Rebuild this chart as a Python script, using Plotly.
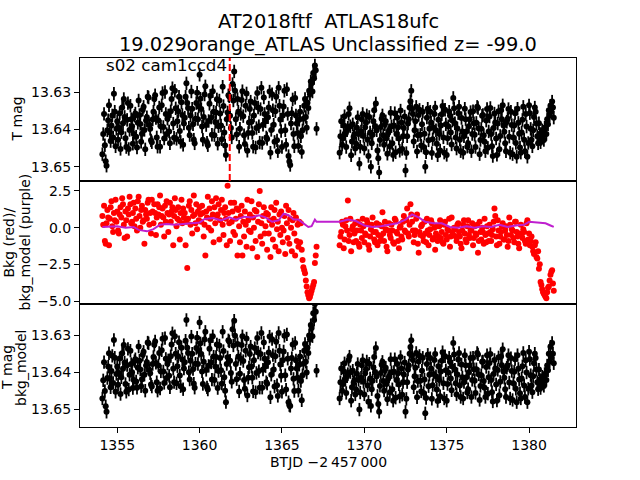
import plotly.graph_objects as go
from plotly.subplots import make_subplots

# ---------------- data ----------------
title_line1 = "AT2018ftf  ATLAS18ufc"
title_line2 = "19.029orange_ATLAS Unclassified z= -99.0"
sector_label = "s02 cam1ccd4"
discovery_btjd = 1361.83

time_seg1 = [
    1354.10, 1354.15, 1354.20, 1354.25, 1354.30, 1354.35, 1354.40, 1354.45, 1354.50, 1354.55, 1354.60, 1354.65, 1354.70, 1354.75, 1354.80, 1354.85, 1354.90, 1354.95, 1355.00, 1355.05,
    1355.10, 1355.15, 1355.20, 1355.25, 1355.30, 1355.35, 1355.40, 1355.45, 1355.50, 1355.55, 1355.60, 1355.65, 1355.70, 1355.75, 1355.80, 1355.85, 1355.90, 1355.95, 1356.00, 1356.05,
    1356.10, 1356.15, 1356.20, 1356.25, 1356.30, 1356.35, 1356.40, 1356.45, 1356.50, 1356.55, 1356.60, 1356.65, 1356.70, 1356.75, 1356.80, 1356.85, 1356.90, 1356.95, 1357.00, 1357.05,
    1357.10, 1357.15, 1357.20, 1357.25, 1357.30, 1357.35, 1357.40, 1357.45, 1357.50, 1357.55, 1357.60, 1357.65, 1357.70, 1357.75, 1357.80, 1357.85, 1357.90, 1357.95, 1358.00, 1358.05,
    1358.10, 1358.15, 1358.20, 1358.25, 1358.30, 1358.35, 1358.40, 1358.45, 1358.50, 1358.55, 1358.60, 1358.65, 1358.70, 1358.75, 1358.80, 1358.85, 1358.90, 1358.95, 1359.00, 1359.05,
    1359.10, 1359.15, 1359.20, 1359.25, 1359.30, 1359.35, 1359.40, 1359.45, 1359.50, 1359.55, 1359.60, 1359.65, 1359.70, 1359.75, 1359.80, 1359.85, 1359.90, 1359.95, 1360.00, 1360.05,
    1360.10, 1360.15, 1360.20, 1360.25, 1360.30, 1360.35, 1360.40, 1360.45, 1360.50, 1360.55, 1360.60, 1360.65, 1360.70, 1360.75, 1360.80, 1360.85, 1360.90, 1360.95, 1361.00, 1361.05,
    1361.10, 1361.15, 1361.20, 1361.25, 1361.30, 1361.35, 1361.40, 1361.45, 1361.50, 1361.55, 1361.60, 1361.65, 1361.70, 1361.75, 1361.80, 1361.85, 1361.90, 1361.95, 1362.00, 1362.05,
    1362.10, 1362.15, 1362.20, 1362.25, 1362.30, 1362.35, 1362.40, 1362.45, 1362.50, 1362.55, 1362.60, 1362.65, 1362.70, 1362.75, 1362.80, 1362.85, 1362.90, 1362.95, 1363.00, 1363.05,
    1363.10, 1363.15, 1363.20, 1363.25, 1363.30, 1363.35, 1363.40, 1363.45, 1363.50, 1363.55, 1363.60, 1363.65, 1363.70, 1363.75, 1363.80, 1363.85, 1363.90, 1363.95, 1364.00, 1364.05,
    1364.10, 1364.15, 1364.20, 1364.25, 1364.30, 1364.35, 1364.40, 1364.45, 1364.50, 1364.55, 1364.60, 1364.65, 1364.70, 1364.75, 1364.80, 1364.85, 1364.90, 1364.95, 1365.00, 1365.05,
    1365.10, 1365.15, 1365.20, 1365.25, 1365.30, 1365.35, 1365.40, 1365.45, 1365.50, 1365.55, 1365.60, 1365.65, 1365.70, 1365.75, 1365.80, 1365.85, 1365.90, 1365.95, 1366.00, 1366.05,
    1366.10, 1366.15, 1366.20, 1366.25, 1366.30, 1366.35, 1366.40, 1366.45, 1366.50, 1366.55, 1366.60, 1366.65, 1366.70, 1366.75, 1366.80, 1366.85, 1366.90, 1366.95, 1367.00, 1367.05,
    1367.10]
time_seg2 = [
    1368.50, 1368.55, 1368.60, 1368.65, 1368.70, 1368.75, 1368.80, 1368.85, 1368.90, 1368.95, 1369.00, 1369.05, 1369.10, 1369.15, 1369.20, 1369.25, 1369.30, 1369.35, 1369.40, 1369.45,
    1369.50, 1369.55, 1369.60, 1369.65, 1369.70, 1369.75, 1369.80, 1369.85, 1369.90, 1369.95, 1370.00, 1370.05, 1370.10, 1370.15, 1370.20, 1370.25, 1370.30, 1370.35, 1370.40, 1370.45,
    1370.50, 1370.55, 1370.60, 1370.65, 1370.70, 1370.75, 1370.80, 1370.85, 1370.90, 1370.95, 1371.00, 1371.05, 1371.10, 1371.15, 1371.20, 1371.25, 1371.30, 1371.35, 1371.40, 1371.45,
    1371.50, 1371.55, 1371.60, 1371.65, 1371.70, 1371.75, 1371.80, 1371.85, 1371.90, 1371.95, 1372.00, 1372.05, 1372.10, 1372.15, 1372.20, 1372.25, 1372.30, 1372.35, 1372.40, 1372.45,
    1372.50, 1372.55, 1372.60, 1372.65, 1372.70, 1372.75, 1372.80, 1372.85, 1372.90, 1372.95, 1373.00, 1373.05, 1373.10, 1373.15, 1373.20, 1373.25, 1373.30, 1373.35, 1373.40, 1373.45,
    1373.50, 1373.55, 1373.60, 1373.65, 1373.70, 1373.75, 1373.80, 1373.85, 1373.90, 1373.95, 1374.00, 1374.05, 1374.10, 1374.15, 1374.20, 1374.25, 1374.30, 1374.35, 1374.40, 1374.45,
    1374.50, 1374.55, 1374.60, 1374.65, 1374.70, 1374.75, 1374.80, 1374.85, 1374.90, 1374.95, 1375.00, 1375.05, 1375.10, 1375.15, 1375.20, 1375.25, 1375.30, 1375.35, 1375.40, 1375.45,
    1375.50, 1375.55, 1375.60, 1375.65, 1375.70, 1375.75, 1375.80, 1375.85, 1375.90, 1375.95, 1376.00, 1376.05, 1376.10, 1376.15, 1376.20, 1376.25, 1376.30, 1376.35, 1376.40, 1376.45,
    1376.50, 1376.55, 1376.60, 1376.65, 1376.70, 1376.75, 1376.80, 1376.85, 1376.90, 1376.95, 1377.00, 1377.05, 1377.10, 1377.15, 1377.20, 1377.25, 1377.30, 1377.35, 1377.40, 1377.45,
    1377.50, 1377.55, 1377.60, 1377.65, 1377.70, 1377.75, 1377.80, 1377.85, 1377.90, 1377.95, 1378.00, 1378.05, 1378.10, 1378.15, 1378.20, 1378.25, 1378.30, 1378.35, 1378.40, 1378.45,
    1378.50, 1378.55, 1378.60, 1378.65, 1378.70, 1378.75, 1378.80, 1378.85, 1378.90, 1378.95, 1379.00, 1379.05, 1379.10, 1379.15, 1379.20, 1379.25, 1379.30, 1379.35, 1379.40, 1379.45,
    1379.50, 1379.55, 1379.60, 1379.65, 1379.70, 1379.75, 1379.80, 1379.85, 1379.90, 1379.95, 1380.00, 1380.05, 1380.10, 1380.15, 1380.20, 1380.25, 1380.30, 1380.35, 1380.40, 1380.45,
    1380.50, 1380.55, 1380.60, 1380.65, 1380.70, 1380.75, 1380.80, 1380.85, 1380.90, 1380.95, 1381.00, 1381.05, 1381.10, 1381.15, 1381.20, 1381.25, 1381.30, 1381.35, 1381.40, 1381.45,
    1381.50]

tmag_seg1 = [
    13.6466, 13.6412, 13.6358, 13.6442, 13.6485, 13.6497, 13.6402, 13.6375, 13.6335, 13.6408, 13.6431, 13.6389, 13.6362, 13.6421, 13.6304, 13.6352, 13.6445, 13.6398, 13.6378, 13.6427,
    13.6395, 13.6356, 13.6452, 13.6407, 13.6341, 13.6383, 13.6318, 13.6366, 13.6423, 13.6447, 13.6374, 13.6329, 13.6452, 13.6401, 13.6336, 13.6372, 13.6391, 13.6438, 13.6412, 13.6363,
    13.6357, 13.6419, 13.6448, 13.6382, 13.6322, 13.6361, 13.6385, 13.6433, 13.6411, 13.6347, 13.6339, 13.6401, 13.6453, 13.6376, 13.6367, 13.6312, 13.6314, 13.6388, 13.6398, 13.6429,
    13.6434, 13.6373, 13.6352, 13.6318, 13.6308, 13.6369, 13.6421, 13.6446, 13.6376, 13.6341, 13.6446, 13.6392, 13.6335, 13.6302, 13.6393, 13.6424, 13.6299, 13.6358, 13.6412, 13.6371,
    13.6362, 13.6405, 13.6437, 13.6351, 13.6318, 13.6289, 13.6384, 13.6422, 13.6296, 13.6343, 13.6425, 13.6378, 13.6351, 13.6312, 13.6404, 13.6433, 13.6327, 13.6361, 13.6441, 13.6384,
    13.6368, 13.6312, 13.6276, 13.6329, 13.6342, 13.6395, 13.6415, 13.6362, 13.6298, 13.6344, 13.6386, 13.6427, 13.6437, 13.6371, 13.6329, 13.6301, 13.6372, 13.6338, 13.6253, 13.6317,
    13.6345, 13.6392, 13.6427, 13.6366, 13.6306, 13.6284, 13.6388, 13.6435, 13.6442, 13.6377, 13.6331, 13.6309, 13.6368, 13.6414, 13.6297, 13.6352, 13.6415, 13.6380, 13.6354, 13.6319,
    13.6438, 13.6391, 13.6322, 13.6357, 13.6389, 13.6426, 13.6285, 13.6337, 13.6408, 13.6443, 13.6468, 13.6372, 13.6354, 13.6308, 13.6311, 13.6363, 13.6396, 13.6421, 13.6278, 13.6322,
    13.6244, 13.6296, 13.6372, 13.6413, 13.6318, 13.6352, 13.6446, 13.6398, 13.6358, 13.6321, 13.6297, 13.6364, 13.6415, 13.6439, 13.6336, 13.6303, 13.6457, 13.6409, 13.6381, 13.6345,
    13.6325, 13.6379, 13.6409, 13.6446, 13.6362, 13.6329, 13.6448, 13.6396, 13.6302, 13.6341, 13.6391, 13.6435, 13.6345, 13.6288, 13.6436, 13.6387, 13.6314, 13.6358, 13.6378, 13.6421,
    13.6425, 13.6367, 13.6341, 13.6298, 13.6462, 13.6401, 13.6305, 13.6348, 13.6387, 13.6433, 13.6351, 13.6312, 13.6429, 13.6458, 13.6288, 13.6336, 13.6373, 13.6404, 13.6447, 13.6362,
    13.6338, 13.6296, 13.6402, 13.6441, 13.6292, 13.6358, 13.6471, 13.6486, 13.6495, 13.6384, 13.6356, 13.6319, 13.6412, 13.6445, 13.6315, 13.6362, 13.6384, 13.6409, 13.6444, 13.6374,
    13.6352, 13.6418, 13.6460, 13.6402, 13.6371, 13.6336, 13.6318, 13.6366, 13.6395, 13.6328, 13.6342, 13.6296, 13.6305, 13.6271, 13.6276, 13.6298, 13.6248, 13.6262, 13.6228, 13.6241,
    13.6398]
tmag_seg2 = [
    13.6462, 13.6418, 13.6378, 13.6441, 13.6423, 13.6389, 13.6364, 13.6412, 13.6447, 13.6402, 13.6395, 13.6358, 13.6343, 13.6391, 13.6469, 13.6432, 13.6386, 13.6419, 13.6412, 13.6451,
    13.6438, 13.6395, 13.6367, 13.6412, 13.6492, 13.6446, 13.6405, 13.6372, 13.6358, 13.6417, 13.6451, 13.6394, 13.6382, 13.6362, 13.6427, 13.6471, 13.6366, 13.6408, 13.6500, 13.6437,
    13.6414, 13.6378, 13.6348, 13.6391, 13.6330, 13.6402, 13.6456, 13.6477, 13.6515, 13.6428, 13.6393, 13.6371, 13.6362, 13.6415, 13.6441, 13.6386, 13.6378, 13.6423, 13.6465, 13.6409,
    13.6402, 13.6445, 13.6355, 13.6391, 13.6437, 13.6468, 13.6389, 13.6356, 13.6461, 13.6412, 13.6368, 13.6394, 13.6424, 13.6457, 13.6349, 13.6381, 13.6452, 13.6418, 13.6396, 13.6365,
    13.6510, 13.6463, 13.6418, 13.6384, 13.6372, 13.6341, 13.6324, 13.6296, 13.6345, 13.6358, 13.6432, 13.6402, 13.6378, 13.6339, 13.6459, 13.6415, 13.6361, 13.6347, 13.6414, 13.6443,
    13.6386, 13.6352, 13.6447, 13.6411, 13.6500, 13.6461, 13.6368, 13.6344, 13.6429, 13.6398, 13.6352, 13.6381, 13.6463, 13.6426, 13.6395, 13.6358, 13.6341, 13.6402, 13.6438, 13.6469,
    13.6374, 13.6412, 13.6456, 13.6389, 13.6359, 13.6337, 13.6421, 13.6462, 13.6347, 13.6386, 13.6468, 13.6423, 13.6391, 13.6352, 13.6362, 13.6408, 13.6440, 13.6376, 13.6315, 13.6343,
    13.6383, 13.6421, 13.6451, 13.6397, 13.6356, 13.6339, 13.6427, 13.6458, 13.6369, 13.6405, 13.6462, 13.6418, 13.6344, 13.6372, 13.6405, 13.6446, 13.6437, 13.6391, 13.6372, 13.6353,
    13.6458, 13.6412, 13.6351, 13.6383, 13.6414, 13.6447, 13.6382, 13.6339, 13.6342, 13.6397, 13.6466, 13.6428, 13.6398, 13.6363, 13.6361, 13.6415, 13.6433, 13.6458, 13.6376, 13.6345,
    13.6449, 13.6405, 13.6365, 13.6342, 13.6412, 13.6445, 13.6471, 13.6396, 13.6357, 13.6381, 13.6424, 13.6468, 13.6384, 13.6351, 13.6453, 13.6417, 13.6348, 13.6372, 13.6335, 13.6389,
    13.6406, 13.6437, 13.6458, 13.6379, 13.6371, 13.6345, 13.6419, 13.6462, 13.6352, 13.6388, 13.6466, 13.6421, 13.6389, 13.6356, 13.6436, 13.6473, 13.6344, 13.6382, 13.6411, 13.6448,
    13.6462, 13.6408, 13.6374, 13.6339, 13.6427, 13.6458, 13.6358, 13.6392, 13.6473, 13.6436, 13.6335, 13.6356, 13.6398, 13.6427, 13.6445, 13.6402, 13.6366, 13.6341, 13.6352, 13.6384,
    13.6418, 13.6437, 13.6383, 13.6411, 13.6434, 13.6425, 13.6402, 13.6418, 13.6428, 13.6395, 13.6395, 13.6412, 13.6372, 13.6386, 13.6348, 13.6362, 13.6336, 13.6352, 13.6325, 13.6341,
    13.6368]

bkg_seg1 = [
    0.8, 0.2, 1.5, -0.9, -1.1, 0.3, 1.2, 0.7, -1.2, 0.6, 1.4, 1.8, 0.1, -0.3, 1.0, 0.5, 1.9, 0.4, 1.1, -0.2,
    -0.4, 0.9, 1.4, 0.7, 2.0, 1.6, 0.2, -0.7, 1.1, 0.5, -0.6, 1.3, 0.9, 2.1, 1.6, 0.3, 0.4, 1.0, 1.7, 0.1,
    1.3, 0.6, -0.2, 1.8, 2.1, 0.8, 0.0, 1.2, 1.5, 0.4, 0.5, -1.1, 1.2, 0.9, 0.6, 1.7, 1.9, 0.2, 1.0, -0.4,
    1.9, 1.1, 0.3, 1.6, 1.0, -0.5, 0.7, 1.6, 0.9, 1.4, 2.2, 0.2, 0.8, 1.3, 0.7, -0.6, 1.5, 0.4, 1.8, 1.0,
    -0.3, 0.9, 1.7, 0.4, 1.1, 1.4, -1.2, 0.8, 2.0, 1.2, 0.1, 0.6, 1.4, 0.5, -0.8, 1.0, 1.9, 0.3, 1.3, 0.7,
    1.0, -1.2, 0.4, -2.75, 0.6, 1.5, 1.8, 0.2, 1.2, -0.4, 0.8, 2.2, 0.9, 0.3, 1.6, -0.1, 1.1, 0.5, 1.4, 0.9,
    0.4, 1.5, 1.0, -0.6, 0.2, -1.9, 1.1, 0.7, 2.1, 0.0, 1.3, 0.6, -0.2, 1.8, 0.9, -1.0, 1.4, 0.3, 2.0, 0.8,
    0.9, 1.6, -0.8, 0.5, 1.2, 1.9, 0.2, -0.5, 1.0, 1.4, 0.6, -1.2, 2.85, 1.0, 0.3, -0.9, 1.7, 0.4, 1.1, -0.3,
    1.7, -0.5, 0.6, 1.3, -1.9, 1.2, 0.1, -1.0, 0.8, 1.5, -1.9, 0.4, -0.6, 1.1, 0.2, -1.3, 1.9, 0.5, -0.2, 0.9,
    -0.3, 1.8, -1.4, 0.7, 0.0, 1.2, -0.9, 1.1, -2.0, 0.4, 1.6, 2.5, -0.6, 0.3, -1.1, 0.8, 1.4, -0.4, 0.1, 1.0,
    -1.5, 0.9, -0.4, 0.5, -2.0, 1.4, 0.2, -0.8, 0.6, 1.2, -1.3, 1.7, -0.1, 0.4, -1.6, 0.9, -0.5, 1.1, 0.0, -1.0,
    -0.2, 0.8, -1.8, 1.5, 0.3, -0.7, 1.2, -1.1, 0.6, 0.0, -1.6, 0.5, 1.0, -0.4, -1.9, 0.7, -0.9, 0.2, -1.3, 0.4,
    -1.0, 0.3, -1.5, -2.2, -2.7, -2.9, -3.1, -3.6, -4.0, -4.4, -4.6, -4.8, -4.7, -4.5, -4.3, -4.1, -3.9, -3.7, -2.4, -1.9,
    -1.3]
bkg_seg2 = [
    -1.2, -0.6, -0.3, 0.4, 0.2, -1.4, -0.8, 0.1, 0.5, -0.2, 1.85, -0.9, -0.5, 0.6, -1.6, -0.1, 0.1, -1.0, -0.4, 0.3,
    -0.9, -0.2, 0.4, -1.1, -1.3, 0.2, -0.2, -0.7, 0.6, 0.1, -1.0, -0.4, -0.5, 0.5, 0.3, -1.2, -1.5, -0.6, -0.1, 0.2,
    0.7, -0.3, -0.8, -1.0, -0.3, 0.3, -1.2, -0.5, 0.2, -0.9, -0.6, 0.1, 1.05, -0.4, -0.9, 0.4, -0.1, -1.3, -1.6, -0.2,
    0.3, -0.5, -0.7, 0.2, -0.2, -1.0, -1.1, 0.6, 0.5, -0.3, -0.4, -0.9, -1.4, 0.0, 0.1, -0.6, -0.8, 0.4, 0.8, -0.2,
    -0.3, 0.5, 1.3, -0.4, -0.6, 0.2, 1.6, 0.9, 0.4, -0.2, -1.0, -0.5, -0.2, 0.6, 0.9, -1.1, -1.7, -0.3, -0.5, 0.1,
    0.2, -0.6, -0.9, 0.4, -0.4, -1.0, 0.6, -0.2, -1.2, -0.5, -0.1, 0.5, 0.3, -0.8, -0.7, 0.0, -1.5, -0.4, 0.1, -0.9,
    -0.6, 0.1, 0.5, -0.7, -0.3, -1.0, -1.1, 0.2, 0.4, -0.5, -0.8, -0.1, -0.2, 0.6, -1.3, -0.6, 0.7, -0.3, -0.5, 0.0,
    -0.1, -0.6, -0.9, 0.2, 0.3, -0.3, -0.6, -1.1, -1.4, -0.2, 0.2, 0.5, -0.4, -0.8, -1.0, 0.1, 0.5, -0.5, -0.7, -0.2,
    -0.2, 0.3, -1.2, -0.7, 0.1, -0.4, -0.5, 0.2, -1.7, -0.9, 0.4, -0.3, -0.8, 0.0, -0.3, -1.1, 0.6, -0.5, -1.0, 0.1,
    -0.4, -0.9, 0.2, -0.3, -0.9, -0.5, -0.1, 0.4, 1.3, 0.8, -0.6, -1.2, 0.5, -0.2, -1.1, -0.6, -0.3, 0.1, 0.3, -0.8,
    -0.8, -0.2, 0.1, -0.5, -1.3, -0.9, 0.7, 0.2, -0.5, -0.1, -0.2, -0.7, -1.0, 0.4, 0.4, -0.3, -0.6, -1.1, -1.4, -0.4,
    0.2, -0.5, -0.7, -0.1, -0.3, -0.9, -1.1, 0.3, 0.5, -0.8, -0.4, -1.2, -0.9, -0.6, -1.3, -1.6, -1.8, -1.2, -1.0, -2.0,
    -2.1, -1.6, -2.8, -2.5, -3.7, -3.9, -4.2, -4.4, -4.5, -4.6, -4.7, -4.8, -4.4, -4.1, -4.0, -3.6, -3.2, -3.0, -2.9, -3.8,
    -4.3]

model_time = [1354.1, 1354.5, 1355.0, 1355.5, 1356.0, 1356.3, 1356.8, 1357.2, 1357.6, 1358.0,
              1358.5, 1359.0, 1359.5, 1360.0, 1360.3, 1360.8, 1361.3, 1361.8, 1362.2, 1362.7,
              1363.2, 1363.6, 1364.0, 1364.4, 1364.8, 1365.1, 1365.4, 1365.7, 1366.0, 1366.3,
              1366.6, 1366.8, 1367.0, 1367.1,
              1368.5, 1369.0, 1369.5, 1370.0, 1370.5, 1371.0, 1371.5, 1372.0, 1372.5, 1372.9,
              1373.3, 1373.7, 1374.2, 1374.7, 1375.2, 1375.7, 1376.2, 1376.7, 1377.2, 1377.7,
              1378.2, 1378.7, 1379.2, 1379.7, 1380.0, 1380.5, 1381.0, 1381.3, 1381.5]
bkg_model = [0.05, 0.05, 0.1, 0.0, 0.05, -0.15, -0.25, -0.1, 0.2, 0.25,
             0.2, 0.25, 0.3, 0.35, 0.6, 0.65, 0.5, 0.7, 0.55, 0.75,
             0.7, 0.85, 0.7, 0.4, 0.5, 0.95, 0.85, 0.55, 0.55, 0.3,
             0.05, 0.1, 0.55, 0.4,
             0.4, 0.55, 0.45, 0.15, 0.05, 0.1, 0.2, 0.3, 0.55, 0.9,
             0.7, 0.4, 0.3, 0.3, 0.05, 0.0, 0.1, 0.0, 0.1, 0.05,
             0.2, 0.05, 0.15, 0.2, 0.4, 0.35, 0.3, 0.15, 0.05]

tmag_sub_seg1 = [
    13.6470, 13.6421, 13.6372, 13.6450, 13.6491, 13.6506, 13.6415, 13.6384, 13.6348, 13.6417, 13.6440, 13.6396, 13.6355, 13.6428, 13.6312, 13.6360, 13.6452, 13.6404, 13.6384, 13.6433,
    13.6401, 13.6362, 13.6458, 13.6413, 13.6348, 13.6390, 13.6326, 13.6373, 13.6431, 13.6452, 13.6380, 13.6336, 13.6446, 13.6406, 13.6341, 13.6377, 13.6399, 13.6442, 13.6420, 13.6369,
    13.6364, 13.6424, 13.6441, 13.6387, 13.6330, 13.6368, 13.6392, 13.6437, 13.6418, 13.6352, 13.6344, 13.6406, 13.6449, 13.6381, 13.6372, 13.6319, 13.6321, 13.6393, 13.6402, 13.6432,
    13.6438, 13.6377, 13.6358, 13.6325, 13.6316, 13.6374, 13.6426, 13.6449, 13.6381, 13.6347, 13.6443, 13.6397, 13.6340, 13.6309, 13.6397, 13.6428, 13.6307, 13.6363, 13.6415, 13.6376,
    13.6367, 13.6409, 13.6440, 13.6356, 13.6324, 13.6294, 13.6390, 13.6426, 13.6302, 13.6349, 13.6429, 13.6383, 13.6356, 13.6318, 13.6408, 13.6437, 13.6333, 13.6365, 13.6445, 13.6389,
    13.6372, 13.6314, 13.6258, 13.6333, 13.6347, 13.6399, 13.6419, 13.6368, 13.6303, 13.6349, 13.6391, 13.6430, 13.6441, 13.6376, 13.6334, 13.6306, 13.6377, 13.6342, 13.6265, 13.6321,
    13.6350, 13.6397, 13.6431, 13.6371, 13.6311, 13.6290, 13.6393, 13.6440, 13.6446, 13.6382, 13.6336, 13.6313, 13.6373, 13.6419, 13.6302, 13.6357, 13.6420, 13.6384, 13.6358, 13.6324,
    13.6442, 13.6396, 13.6327, 13.6361, 13.6394, 13.6430, 13.6290, 13.6342, 13.6413, 13.6449, 13.6480, 13.6377, 13.6359, 13.6313, 13.6316, 13.6368, 13.6401, 13.6425, 13.6283, 13.6327,
    13.6260, 13.6301, 13.6377, 13.6418, 13.6323, 13.6357, 13.6451, 13.6403, 13.6363, 13.6326, 13.6302, 13.6369, 13.6420, 13.6444, 13.6341, 13.6308, 13.6462, 13.6414, 13.6386, 13.6350,
    13.6330, 13.6384, 13.6414, 13.6451, 13.6367, 13.6334, 13.6453, 13.6401, 13.6307, 13.6346, 13.6396, 13.6441, 13.6350, 13.6293, 13.6441, 13.6392, 13.6319, 13.6363, 13.6383, 13.6426,
    13.6430, 13.6372, 13.6346, 13.6303, 13.6467, 13.6406, 13.6310, 13.6353, 13.6392, 13.6438, 13.6356, 13.6317, 13.6434, 13.6463, 13.6293, 13.6341, 13.6378, 13.6409, 13.6452, 13.6367,
    13.6343, 13.6301, 13.6407, 13.6446, 13.6297, 13.6363, 13.6480, 13.6488, 13.6490, 13.6389, 13.6361, 13.6324, 13.6417, 13.6450, 13.6320, 13.6367, 13.6389, 13.6414, 13.6449, 13.6379,
    13.6357, 13.6423, 13.6475, 13.6407, 13.6376, 13.6341, 13.6323, 13.6371, 13.6400, 13.6333, 13.6347, 13.6300, 13.6310, 13.6272, 13.6280, 13.6302, 13.6240, 13.6258, 13.6215, 13.6236,
    13.6395]
tmag_sub_seg2 = [
    13.6470, 13.6426, 13.6389, 13.6449, 13.6431, 13.6397, 13.6375, 13.6420, 13.6455, 13.6410, 13.6404, 13.6366, 13.6357, 13.6399, 13.6476, 13.6440, 13.6395, 13.6427, 13.6420, 13.6459,
    13.6446, 13.6403, 13.6377, 13.6420, 13.6500, 13.6454, 13.6414, 13.6380, 13.6367, 13.6425, 13.6459, 13.6402, 13.6391, 13.6370, 13.6435, 13.6479, 13.6376, 13.6416, 13.6490, 13.6445,
    13.6422, 13.6386, 13.6358, 13.6399, 13.6334, 13.6410, 13.6463, 13.6485, 13.6506, 13.6436, 13.6401, 13.6379, 13.6371, 13.6423, 13.6449, 13.6394, 13.6387, 13.6431, 13.6472, 13.6417,
    13.6410, 13.6453, 13.6364, 13.6399, 13.6445, 13.6476, 13.6398, 13.6364, 13.6468, 13.6420, 13.6377, 13.6402, 13.6432, 13.6465, 13.6358, 13.6389, 13.6460, 13.6426, 13.6405, 13.6373,
    13.6506, 13.6471, 13.6426, 13.6392, 13.6381, 13.6349, 13.6331, 13.6313, 13.6354, 13.6366, 13.6440, 13.6410, 13.6387, 13.6347, 13.6467, 13.6423, 13.6370, 13.6355, 13.6422, 13.6451,
    13.6395, 13.6360, 13.6455, 13.6419, 13.6510, 13.6469, 13.6377, 13.6352, 13.6437, 13.6406, 13.6361, 13.6389, 13.6471, 13.6434, 13.6404, 13.6366, 13.6350, 13.6410, 13.6446, 13.6477,
    13.6383, 13.6420, 13.6464, 13.6397, 13.6368, 13.6345, 13.6429, 13.6470, 13.6356, 13.6394, 13.6476, 13.6431, 13.6400, 13.6360, 13.6371, 13.6416, 13.6448, 13.6384, 13.6320, 13.6351,
    13.6392, 13.6429, 13.6459, 13.6405, 13.6365, 13.6347, 13.6435, 13.6466, 13.6378, 13.6413, 13.6470, 13.6426, 13.6353, 13.6380, 13.6413, 13.6454, 13.6445, 13.6399, 13.6381, 13.6361,
    13.6466, 13.6420, 13.6360, 13.6391, 13.6422, 13.6455, 13.6391, 13.6347, 13.6351, 13.6405, 13.6474, 13.6436, 13.6407, 13.6371, 13.6370, 13.6423, 13.6441, 13.6466, 13.6385, 13.6353,
    13.6457, 13.6413, 13.6374, 13.6350, 13.6420, 13.6453, 13.6478, 13.6404, 13.6366, 13.6389, 13.6432, 13.6476, 13.6393, 13.6359, 13.6461, 13.6425, 13.6357, 13.6380, 13.6337, 13.6397,
    13.6414, 13.6445, 13.6466, 13.6387, 13.6380, 13.6353, 13.6427, 13.6470, 13.6361, 13.6396, 13.6474, 13.6429, 13.6398, 13.6364, 13.6444, 13.6480, 13.6353, 13.6390, 13.6419, 13.6456,
    13.6470, 13.6416, 13.6383, 13.6347, 13.6435, 13.6466, 13.6367, 13.6400, 13.6480, 13.6444, 13.6344, 13.6364, 13.6407, 13.6435, 13.6453, 13.6410, 13.6375, 13.6349, 13.6361, 13.6392,
    13.6426, 13.6445, 13.6392, 13.6419, 13.6442, 13.6433, 13.6411, 13.6426, 13.6436, 13.6404, 13.6404, 13.6420, 13.6381, 13.6394, 13.6349, 13.6370, 13.6330, 13.6360, 13.6320, 13.6349,
    13.6375]

mag_error = 0.0018
x_ticks = [1355, 1360, 1365, 1370, 1375, 1380]
mag_ticks = [13.63, 13.64, 13.65]
bkg_ticks = [2.5, 0.0, -2.5, -5.0]

# ---------------- figure ----------------
FONT = "DejaVu Sans"
L, R, T, B = 80, 64, 58, 53
W, H = 640, 480
PW, PH = W - L - R, H - T - B


def px(xp):
    return (xp - L) / PW


def py(yp):
    return (H - B - yp) / PH


time_all = time_seg1 + time_seg2

fig = make_subplots(rows=3, cols=1, shared_xaxes=True, vertical_spacing=0)

fig.add_trace(go.Scatter(
    x=time_all, y=tmag_seg1 + tmag_seg2, mode="markers",
    marker=dict(size=6, color="black"),
    error_y=dict(type="constant", value=mag_error, thickness=1.8, width=0, color="black"),
    showlegend=False), row=1, col=1)

fig.add_trace(go.Scatter(
    x=time_all, y=bkg_seg1 + bkg_seg2, mode="markers",
    marker=dict(size=6, color="#ff0000"),
    showlegend=False), row=2, col=1)

fig.add_trace(go.Scatter(
    x=model_time, y=bkg_model, mode="lines",
    line=dict(color="#bf1fcf", width=2),
    showlegend=False), row=2, col=1)

fig.add_trace(go.Scatter(
    x=time_all, y=tmag_sub_seg1 + tmag_sub_seg2, mode="markers",
    marker=dict(size=6, color="black"),
    error_y=dict(type="constant", value=mag_error, thickness=1.8, width=0, color="black"),
    showlegend=False), row=3, col=1)

fig.add_shape(type="line", x0=discovery_btjd, x1=discovery_btjd, xref="x",
              y0=0, y1=1, yref="y domain",
              line=dict(color="#ff0000", width=2, dash="7px,3px"))

axis_common = dict(showline=True, linecolor="black", linewidth=1, mirror=True,
                   showgrid=False, zeroline=False,
                   tickfont=dict(family=FONT, size=14, color="black"))

xr = [1352.74, 1382.85]
for i in (1, 2):
    fig.update_xaxes(range=xr, ticks="", showticklabels=False, **axis_common, row=i, col=1)
fig.update_xaxes(range=xr, ticks="outside", ticklen=5, tickwidth=1, tickcolor="black",
                 tickvals=x_ticks, ticktext=[str(v) for v in x_ticks],
                 **axis_common, row=3, col=1)

fig.update_yaxes(range=[13.6538, 13.6208], tickvals=mag_ticks,
                 ticktext=["%.2f" % v for v in mag_ticks],
                 ticks="outside", ticklen=5, tickwidth=1, tickcolor="black",
                 **axis_common, row=1, col=1)
fig.update_yaxes(range=[-5.2, 3.18], tickvals=bkg_ticks,
                 ticktext=[("%.1f" % v).replace("-", "\u2212") for v in bkg_ticks],
                 ticks="outside", ticklen=5, tickwidth=1, tickcolor="black",
                 **axis_common, row=2, col=1)
fig.update_yaxes(range=[13.6547, 13.6215], tickvals=mag_ticks,
                 ticktext=["%.2f" % v for v in mag_ticks],
                 ticks="outside", ticklen=5, tickwidth=1, tickcolor="black",
                 **axis_common, row=3, col=1)

d3 = 1.0 / 3.0
fig.update_layout(
    yaxis=dict(domain=[2 * d3, 1.0]),
    yaxis2=dict(domain=[d3, 2 * d3]),
    yaxis3=dict(domain=[0.0, d3]),
)


def vlabel(text, xpix, ypix):
    return dict(text=text, x=px(xpix), y=py(ypix), xref="paper", yref="paper",
                xanchor="center", yanchor="middle", textangle=-90, showarrow=False,
                font=dict(family=FONT, size=14, color="black"))


ann = []
ann.append(dict(text=title_line1, x=0.5, y=py(21), xref="paper", yref="paper",
                xanchor="center", yanchor="middle", showarrow=False,
                font=dict(family=FONT, size=19.4, color="black")))
ann.append(dict(text=title_line2, x=0.5, y=py(44), xref="paper", yref="paper",
                xanchor="center", yanchor="middle", showarrow=False,
                font=dict(family=FONT, size=19.4, color="black")))
ann.append(dict(text=sector_label, x=px(104), y=py(65), xref="paper", yref="paper",
                xanchor="left", yanchor="middle", showarrow=False,
                font=dict(family=FONT, size=16.7, color="black")))
ann.append(vlabel("T mag", 17, 119.5))
ann.append(vlabel("Bkg (red)/", 8, 242.5))
ann.append(vlabel("bkg_model (purple)", 24, 242.5))
ann.append(vlabel("T mag", 7, 368))
ann.append(vlabel("bkg_model", 21, 368))
ann.append(dict(text="BTJD \u22122\u2009457\u2009000", x=0.5, y=py(462), xref="paper", yref="paper",
                xanchor="center", yanchor="middle", showarrow=False,
                font=dict(family=FONT, size=14, color="black")))

fig.update_layout(
    width=W, height=H,
    margin=dict(l=L, r=R, t=T, b=B, pad=0),
    paper_bgcolor="white", plot_bgcolor="white",
    font=dict(family=FONT, size=14, color="black"),
    annotations=ann,
    showlegend=False,
)

fig.write_html("out.html", config={"displayModeBar": False},
               post_script="document.body.style.margin='0';")
